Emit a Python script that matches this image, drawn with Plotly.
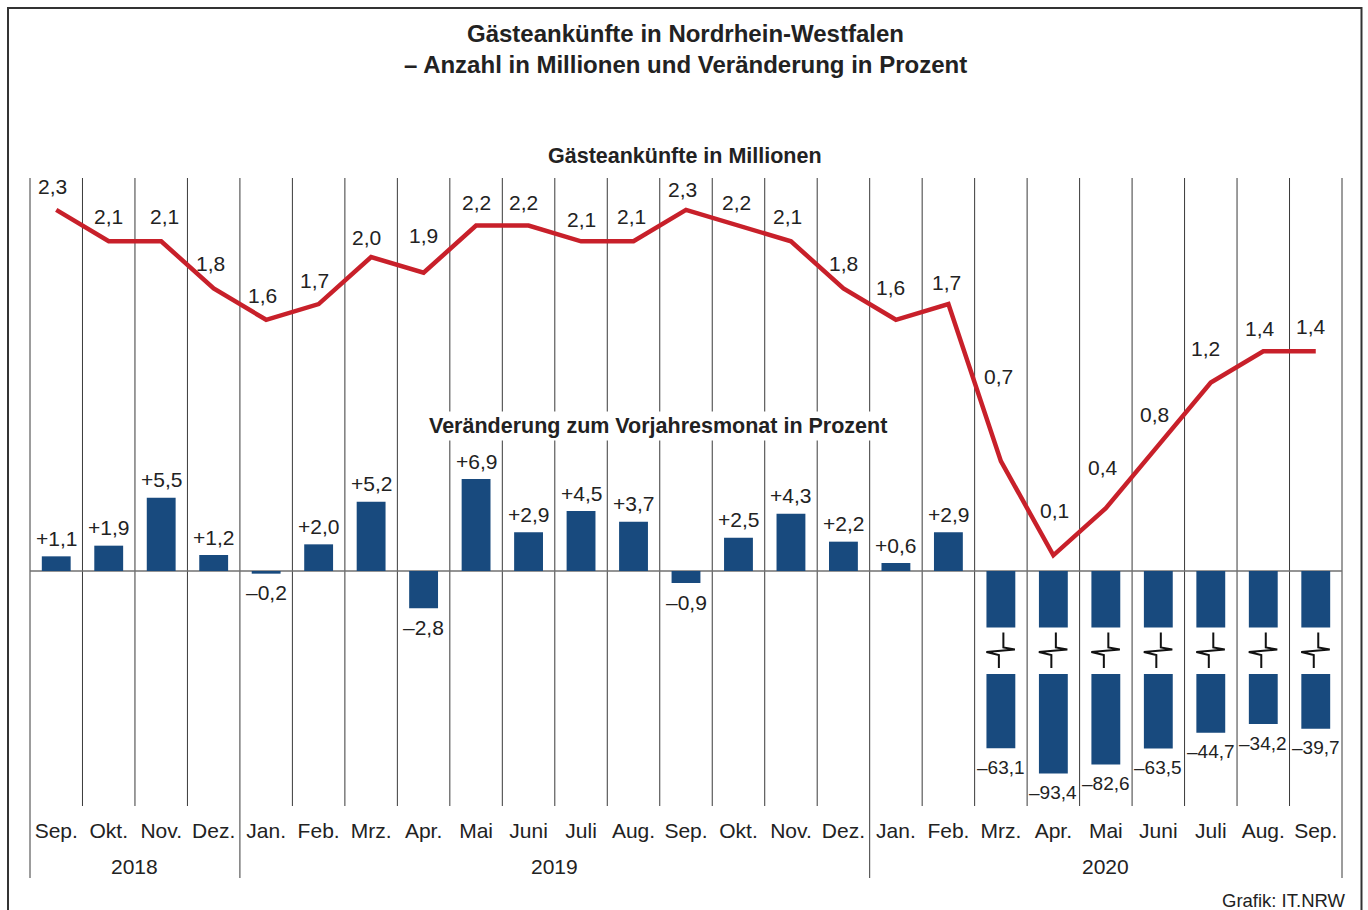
import plotly.graph_objects as go

# ---------------- data ----------------
MONTHS = ["Sep.", "Okt.", "Nov.", "Dez.",
          "Jan.", "Feb.", "Mrz.", "Apr.", "Mai", "Juni", "Juli", "Aug.",
          "Sep.", "Okt.", "Nov.", "Dez.",
          "Jan.", "Feb.", "Mrz.", "Apr.", "Mai", "Juni", "Juli", "Aug.", "Sep."]
YEARS = ["2018", "2019", "2020"]
YEAR_SPANS = [4, 12, 9]
ARRIVALS_MIO = [2.3, 2.1, 2.1, 1.8, 1.6, 1.7, 2.0, 1.9, 2.2, 2.2, 2.1, 2.1,
                2.3, 2.2, 2.1, 1.8, 1.6, 1.7, 0.7, 0.1, 0.4, 0.8, 1.2, 1.4, 1.4]
CHANGE_PCT = [1.1, 1.9, 5.5, 1.2, -0.2, 2.0, 5.2, -2.8, 6.9, 2.9, 4.5, 3.7,
              -0.9, 2.5, 4.3, 2.2, 0.6, 2.9, -63.1, -93.4, -82.6, -63.5, -44.7, -34.2, -39.7]

TITLE_1 = "Gästeankünfte in Nordrhein-Westfalen"
TITLE_2 = "– Anzahl in Millionen und Veränderung in Prozent"
SUB_LINE = "Gästeankünfte in Millionen"
SUB_BARS = "Veränderung zum Vorjahresmonat in Prozent"
SOURCE = "Grafik: IT.NRW"

# ---------------- layout / style ----------------
W, H = 1368, 910
PL, PR, PT, PB = 30, 1342.5, 178, 806     # plot area in pixels
Y0 = 571                                  # common zero line (pixels)
LINE_PX_PER_UNIT = 157.0
BAR_PX_PER_UNIT = 13.33
N = len(MONTHS)
COL_W = (PR - PL) / N

# broken bar axis (pixels)
BREAK_LIMIT = 10
UPPER_SEG_PX = 56.5
LOWER_START_PX = 103
LOWER_BASE_PX = 21.5
LOWER_PX_PER_UNIT = 0.835

BAR_COLOR = "#184a7e"
LINE_COLOR = "#c8202a"
TEXT_COLOR = "#222222"
GRID_COLOR = "#3a3a3a"
FONT = "Liberation Sans, Arial, Helvetica, sans-serif"
LABEL_SIZE = 21

LINE_LABEL_DY = [23, 25, 25, 25, 24, 24, 20, 37, 23, 23, 22, 25,
                 20, 23, 25, 25, 32, 22, 85, 45, 41, 31, 34, 23, 25]
LINE_LABEL_DX = [-4, 0, 3, -3, -4, -4, -5, 0, 0, -5, 0, -2,
                 -4, -2, -3, 0, -5, -2, -2, 1, -3, -4, -5, -3, -5]


def px_x(p):
    return (p - PL) / (PR - PL)


def px_y(p):
    return (PB - p) / (PB - PT)


def fmt(v, sign=False):
    s = f"{abs(v):.1f}".replace(".", ",")
    if sign:
        return ("+" if v >= 0 else "–") + s
    return s


def bar_units(px):
    return px / BAR_PX_PER_UNIT


fig = go.Figure()

small_idx = [i for i, v in enumerate(CHANGE_PCT) if abs(v) <= BREAK_LIMIT]
big_idx = [i for i, v in enumerate(CHANGE_PCT) if abs(v) > BREAK_LIMIT]

# normal bars
fig.add_trace(go.Bar(
    x=small_idx, y=[CHANGE_PCT[i] for i in small_idx], base=0,
    marker=dict(color=BAR_COLOR, line=dict(width=0)), width=0.55,
    yaxis="y", showlegend=False, hoverinfo="skip"))

# broken bars: upper stub
fig.add_trace(go.Bar(
    x=big_idx, y=[-bar_units(UPPER_SEG_PX) for _ in big_idx], base=0,
    marker=dict(color=BAR_COLOR, line=dict(width=0)), width=0.55,
    yaxis="y", showlegend=False, hoverinfo="skip"))


def lower_end_units(v):
    return -bar_units(LOWER_START_PX + LOWER_BASE_PX + LOWER_PX_PER_UNIT * abs(v))


lower_start = -bar_units(LOWER_START_PX)
# broken bars: compressed lower part
fig.add_trace(go.Bar(
    x=big_idx,
    y=[lower_end_units(CHANGE_PCT[i]) - lower_start for i in big_idx],
    base=lower_start,
    marker=dict(color=BAR_COLOR, line=dict(width=0)), width=0.55,
    yaxis="y", showlegend=False, hoverinfo="skip"))

# line
fig.add_trace(go.Scatter(
    x=list(range(N)), y=ARRIVALS_MIO, mode="lines",
    line=dict(color=LINE_COLOR, width=4.5), yaxis="y2",
    showlegend=False, hoverinfo="skip"))

shapes = []
# vertical separators
year_bounds = [0]
for s in YEAR_SPANS:
    year_bounds.append(year_bounds[-1] + s)
for k in range(N + 1):
    bottom = 878 if k in year_bounds else PB
    shapes.append(dict(type="line", xref="paper", yref="paper",
                       x0=k / N, x1=k / N, y0=px_y(PT), y1=px_y(bottom),
                       line=dict(color=GRID_COLOR, width=1), layer="below"))
# zero line
shapes.append(dict(type="line", xref="paper", yref="y", x0=0, x1=1, y0=0, y1=0,
                   line=dict(color="#707070", width=1.5), layer="below"))
# outer frame
shapes.append(dict(type="rect", xref="paper", yref="paper",
                   x0=px_x(8), x1=px_x(1362), y0=px_y(915), y1=px_y(8),
                   line=dict(color="#333333", width=2), layer="below"))
# break symbols
for i in big_idx:
    cx = PL + (i + 0.5) * COL_W
    pts = [(cx + 2.5, 632.5), (cx + 2.5, 647.5), (cx + 14, 649.5),
           (cx - 14.5, 652), (cx - 2, 655), (cx - 2, 668)]
    path = "M " + " L ".join(f"{px_x(a)},{px_y(b)}" for a, b in pts)
    shapes.append(dict(type="path", xref="paper", yref="paper", path=path,
                       line=dict(color="#111111", width=2)))


def paper_ann(text, x, y, size, xanchor="center", **kw):
    return dict(text=text, x=px_x(x), y=px_y(y), xref="paper", yref="paper",
                showarrow=False, xanchor=xanchor, yanchor="middle",
                font=dict(size=size, color=TEXT_COLOR, family=FONT), **kw)


ann = []
ann.append(paper_ann(f"<b>{TITLE_1}</b>", 686, 33, 24))
ann.append(paper_ann(f"<b>{TITLE_2}</b>", 686, 65, 24))
ann.append(paper_ann(f"<b>{SUB_LINE}</b>", 685, 156, 21.5))
ann.append(paper_ann(f"<b>{SUB_BARS}</b>", 658, 426, 21.5, bgcolor="white", borderpad=2))
ann.append(paper_ann(SOURCE, 1349, 900, 18.5, xanchor="right"))

# year labels
start = 0
for yr, span in zip(YEARS, YEAR_SPANS):
    ann.append(dict(text=yr, x=(start + span / 2) / N, y=px_y(866), xref="paper",
                    yref="paper", showarrow=False, xanchor="center", yanchor="middle",
                    font=dict(size=LABEL_SIZE, color=TEXT_COLOR, family=FONT)))
    start += span

# line labels
for i, v in enumerate(ARRIVALS_MIO):
    ann.append(dict(text=fmt(v), x=i, y=v, xref="x", yref="y2", showarrow=False,
                    xanchor="center", yanchor="middle",
                    yshift=LINE_LABEL_DY[i], xshift=LINE_LABEL_DX[i],
                    font=dict(size=LABEL_SIZE, color=TEXT_COLOR, family=FONT)))

# bar labels
for i, v in enumerate(CHANGE_PCT):
    broken = abs(v) > BREAK_LIMIT
    yv = lower_end_units(v) if broken else v
    ann.append(dict(text=fmt(v, sign=True), x=i, y=yv, xref="x", yref="y",
                    showarrow=False, xanchor="center", yanchor="middle",
                    yshift=18 if v > 0 else -19,
                    font=dict(size=19 if broken else LABEL_SIZE, color=TEXT_COLOR,
                              family=FONT)))

fig.update_layout(
    width=W, height=H,
    margin=dict(l=PL, r=W - PR, t=PT, b=H - PB, pad=0),
    paper_bgcolor="white", plot_bgcolor="rgba(0,0,0,0)",
    barmode="overlay",
    font=dict(family=FONT, color=TEXT_COLOR),
    xaxis=dict(range=[-0.5, N - 0.5], tickmode="array", tickvals=list(range(N)),
               ticktext=MONTHS, showgrid=False, zeroline=False, showline=False,
               ticks="", ticklabelstandoff=10,
               tickfont=dict(size=LABEL_SIZE, color=TEXT_COLOR, family=FONT)),
    yaxis=dict(range=[-(PB - Y0) / BAR_PX_PER_UNIT, (Y0 - PT) / BAR_PX_PER_UNIT],
               visible=False),
    yaxis2=dict(range=[-(PB - Y0) / LINE_PX_PER_UNIT, (Y0 - PT) / LINE_PX_PER_UNIT],
                visible=False, overlaying="y"),
    shapes=shapes, annotations=ann,
)

fig.write_html("out.html", config={"displayModeBar": False},
               post_script="document.body.style.margin='0';document.body.style.overflow='hidden';")
